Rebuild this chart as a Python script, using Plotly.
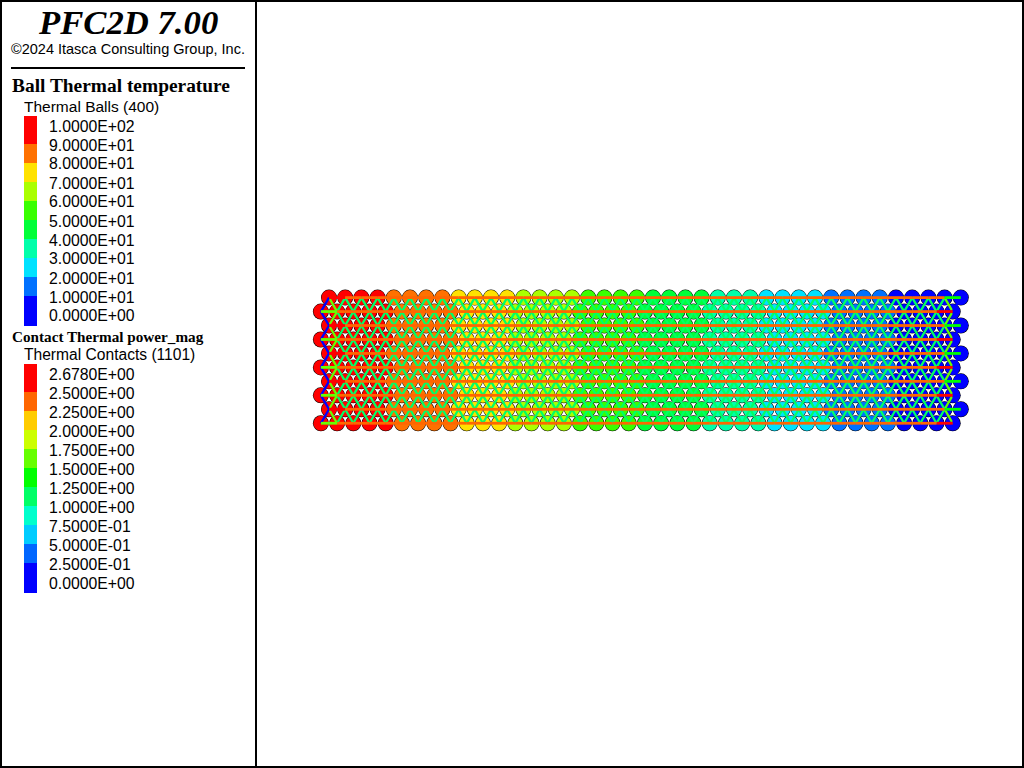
import plotly.graph_objects as go

W, H = 1024, 768

# ---- legend content ----
BALL_TITLE = "Ball Thermal temperature"
BALL_SUB = "Thermal Balls (400)"
BALL_LABELS = ["1.0000E+02", "9.0000E+01", "8.0000E+01", "7.0000E+01", "6.0000E+01", "5.0000E+01",
               "4.0000E+01", "3.0000E+01", "2.0000E+01", "1.0000E+01", "0.0000E+00"]
BALL_EDGES = [100, 90, 80, 70, 60, 50, 40, 30, 20, 10, 0]
BALL_COLORS = ["#FF0000", "#FF7100", "#FFE200", "#AAFF00", "#39FF00",
               "#00FF39", "#00FFAA", "#00E2FF", "#0071FF", "#0000FF"]
CONTACT_TITLE = "Contact Thermal power_mag"
CONTACT_SUB = "Thermal Contacts (1101)"
CONTACT_LABELS = ["2.6780E+00", "2.5000E+00", "2.2500E+00", "2.0000E+00", "1.7500E+00", "1.5000E+00",
                  "1.2500E+00", "1.0000E+00", "7.5000E-01", "5.0000E-01", "2.5000E-01", "0.0000E+00"]
CONTACT_EDGES = [2.678, 2.5, 2.25, 2.0, 1.75, 1.5, 1.25, 1.0, 0.75, 0.5, 0.25, 0.0]
CONTACT_COLORS = ["#FF0000", "#FF6600", "#FFCC00", "#CCFF00", "#66FF00", "#00FF00",
                  "#00FF66", "#00FFCC", "#00CCFF", "#0066FF", "#0000FF"]

# ---- ball temperature per column ----
TEMP_LONG_ROWS = [97, 95, 93, 91, 88, 86, 84, 82, 78, 76, 74, 72, 68, 66, 64, 62, 58, 56, 54, 52,
                  48, 46, 44, 42, 38, 35, 32, 28, 26, 24, 22, 18, 16, 14, 12, 8, 6, 4, 2, 0]
TEMP_SHORT_ROWS = [99, 97, 95, 93, 91, 88, 86, 84, 82, 78, 75, 72, 68, 66, 64, 62, 58, 56, 54, 52,
                   48, 46, 44, 42, 38, 36, 34, 32, 28, 26, 24, 22, 18, 16, 14, 12, 8, 6, 4, 2]

# ---- contact power: horizontal contacts along each kind of row, and diagonals ----
H_POWER_LONG = [2.6] + [2.4] * 37 + [1.4]
H_POWER_SHORT = [1.6] + [2.4] * 36 + [2.4, 2.6]
D_POWER_EDGE = 0.1
D_POWER_NEAR_EDGE = 1.6
D_POWER_INNER = 1.1

N_ROWS = 10
N_COLS = 40


# long rows (0, 2, ...) sit half a spacing right of the short rows (1, 3, ...)
def bx(row, col):
    return col if row % 2 == 0 else col - 0.5


def bin_index(v, edges):
    for i in range(len(edges) - 1):
        if v >= edges[i + 1]:
            return i
    return len(edges) - 2


fig = go.Figure()

# balls: black discs first, then the coloured discs on top
ball_x = [[] for _ in BALL_COLORS]
ball_y = [[] for _ in BALL_COLORS]
all_x, all_y = [], []
for r in range(N_ROWS):
    temps = TEMP_LONG_ROWS if r % 2 == 0 else TEMP_SHORT_ROWS
    for c, t in enumerate(temps):
        i = bin_index(t, BALL_EDGES)
        ball_x[i].append(bx(r, c))
        ball_y[i].append(r)
        all_x.append(bx(r, c))
        all_y.append(r)
fig.add_trace(go.Scatter(x=all_x, y=all_y, mode="markers", hoverinfo="skip",
                         marker=dict(size=16, color="black", line=dict(width=0))))
for i, col in enumerate(BALL_COLORS):
    fig.add_trace(go.Scatter(x=ball_x[i], y=ball_y[i], mode="markers", hoverinfo="skip",
                             marker=dict(size=15, color=col, line=dict(width=0))))

# contacts: diagonals under the horizontals
dx = [[] for _ in CONTACT_COLORS]
dy = [[] for _ in CONTACT_COLORS]
hx = [[] for _ in CONTACT_COLORS]
hy = [[] for _ in CONTACT_COLORS]


def add_contact(xs, ys, r1, c1, r2, c2, p):
    i = bin_index(p, CONTACT_EDGES)
    xs[i] += [bx(r1, c1), bx(r2, c2), None]
    ys[i] += [r1, r2, None]


for r in range(N_ROWS - 1):
    for c in range(N_COLS):
        p = D_POWER_EDGE if c in (0, N_COLS - 1) else D_POWER_INNER
        add_contact(dx, dy, r, c, r + 1, c, p)
        if c < N_COLS - 1:
            p = D_POWER_NEAR_EDGE if c in (0, N_COLS - 2) else D_POWER_INNER
            if r % 2 == 0:
                add_contact(dx, dy, r, c, r + 1, c + 1, p)
            else:
                add_contact(dx, dy, r, c + 1, r + 1, c, p)
for r in range(N_ROWS):
    powers = H_POWER_LONG if r % 2 == 0 else H_POWER_SHORT
    for c, p in enumerate(powers):
        add_contact(hx, hy, r, c, r, c + 1, p)

for i, col in enumerate(CONTACT_COLORS):
    if dx[i]:
        fig.add_trace(go.Scatter(x=dx[i], y=dy[i], mode="lines", hoverinfo="skip",
                                 line=dict(color=col, width=2.3)))
for i, col in enumerate(CONTACT_COLORS):
    if hx[i]:
        fig.add_trace(go.Scatter(x=hx[i], y=hy[i], mode="lines", hoverinfo="skip",
                                 line=dict(color=col, width=2.8)))


def px(v):
    return v / W


def py(v):
    return 1 - v / H


def text(x, y, s, family, size, bold=False, italic=False, anchor="left"):
    if bold:
        s = "<b>" + s + "</b>"
    if italic:
        s = "<i>" + s + "</i>"
    fig.add_annotation(x=px(x), y=py(y), xref="paper", yref="paper", text=s, showarrow=False,
                       xanchor=anchor, yanchor="middle", borderpad=0,
                       font=dict(family=family, size=size, color="black"))


def rect(x0, y0, x1, y1, color):
    fig.add_shape(type="rect", xref="paper", yref="paper", x0=px(x0), x1=px(x1), y0=py(y0), y1=py(y1),
                  fillcolor=color, line=dict(width=0), layer="above")


SANS = "Liberation Sans"
SERIF = "Liberation Serif"

# frame
rect(0, 0, 1024, 2, "black")
rect(0, 766, 1024, 768, "black")
rect(0, 0, 2, 768, "black")
rect(1022, 0, 1024, 768, "black")
rect(255, 0, 257, 768, "black")
rect(11, 67, 245, 69, "black")

text(128, 22, "PFC2D 7.00", SERIF, 34.7, bold=True, italic=True, anchor="center")
text(128, 49, "©2024 Itasca Consulting Group, Inc.", SANS, 14.5, anchor="center")

text(11, 86, BALL_TITLE, SERIF, 19.4, bold=True)
text(23, 107, BALL_SUB, SANS, 15.5)
top = 116
for i, col in enumerate(BALL_COLORS):
    h = 28 if i == 0 else (30 if i == len(BALL_COLORS) - 1 else 19)
    rect(24, top, 37, top + h, col)
    top += h
for i, s in enumerate(BALL_LABELS):
    text(48, 126 + 19 * i, s, SANS, 15.8)

text(11, 336, CONTACT_TITLE, SERIF, 15.2, bold=True)
text(23, 355, CONTACT_SUB, SANS, 15.6)
top = 364
for i, col in enumerate(CONTACT_COLORS):
    h = 28 if i == 0 else (30 if i == len(CONTACT_COLORS) - 1 else 19)
    rect(24, top, 37, top + h, col)
    top += h
for i, s in enumerate(CONTACT_LABELS):
    text(48, 374 + 19 * i, s, SANS, 15.8)

# one column = 16.2 px, one row = 13.96 px on the page
fig.update_layout(
    width=W, height=H, margin=dict(l=0, r=0, t=0, b=0), showlegend=False,
    paper_bgcolor="white", plot_bgcolor="white",
    xaxis=dict(visible=False, range=[-329 / 16.2, (W - 329) / 16.2]),
    yaxis=dict(visible=False, range=[(H - 297.6) / 13.96, -297.6 / 13.96]),
)

fig.write_html("out.html", include_plotlyjs=True, config={"displayModeBar": False}, post_script="""
document.body.style.margin='0';document.documentElement.style.overflow='hidden';
""")
